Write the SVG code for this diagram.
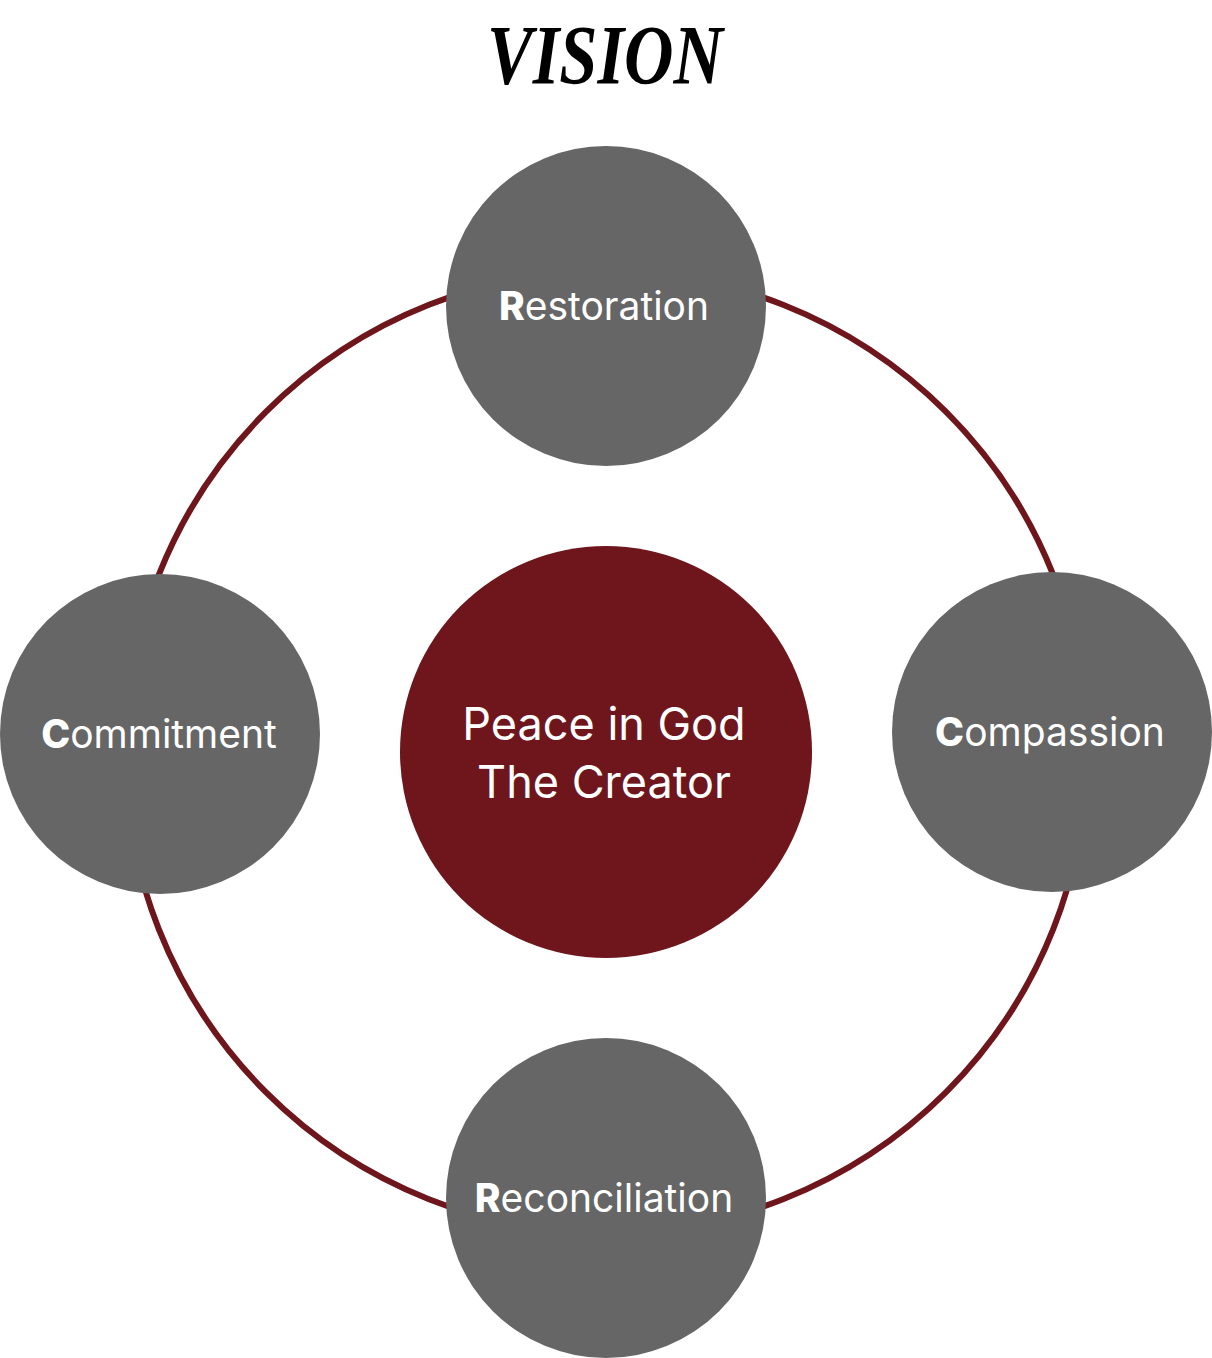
<svg xmlns="http://www.w3.org/2000/svg" width="1212" height="1358" viewBox="0 0 1212 1358">
<style>
.node{fill:#666666}
.lbl{font-family:Inter,"Liberation Sans",sans-serif;font-size:39px;font-weight:400;fill:#ffffff;text-anchor:middle}
.ini{font-weight:800}
.ctr{font-family:Inter,"Liberation Sans",sans-serif;font-size:45px;font-weight:400;fill:#ffffff;text-anchor:middle}
</style>
<rect width="1212" height="1358" fill="#ffffff"/>
<text x="605" y="84" font-family="'Liberation Serif',serif" font-style="italic" font-weight="700" font-size="84" fill="#000" text-anchor="middle" textLength="236" lengthAdjust="spacingAndGlyphs">VISION</text>
<g id="connectors">
<circle cx="606" cy="752" r="481" fill="none" stroke="#6E161C" stroke-width="6"/>
</g>
<g id="center">
<circle cx="606" cy="752" r="206" fill="#6E161C"/>
<text class="ctr" x="604" y="740">Peace in God</text>
<text class="ctr" x="604" y="798">The Creator</text>
</g>
<g id="restoration">
<circle class="node" cx="606" cy="306" r="160"/>
<text class="lbl" x="604" y="320"><tspan class="ini">R</tspan>estoration</text>
</g>
<g id="commitment">
<circle class="node" cx="160" cy="734" r="160"/>
<text class="lbl" x="159" y="748"><tspan class="ini">C</tspan>ommitment</text>
</g>
<g id="compassion">
<circle class="node" cx="1052" cy="732" r="160"/>
<text class="lbl" x="1050" y="746"><tspan class="ini">C</tspan>ompassion</text>
</g>
<g id="reconciliation">
<circle class="node" cx="606" cy="1198" r="160"/>
<text class="lbl" x="604" y="1212"><tspan class="ini">R</tspan>econciliation</text>
</g>
</svg>
